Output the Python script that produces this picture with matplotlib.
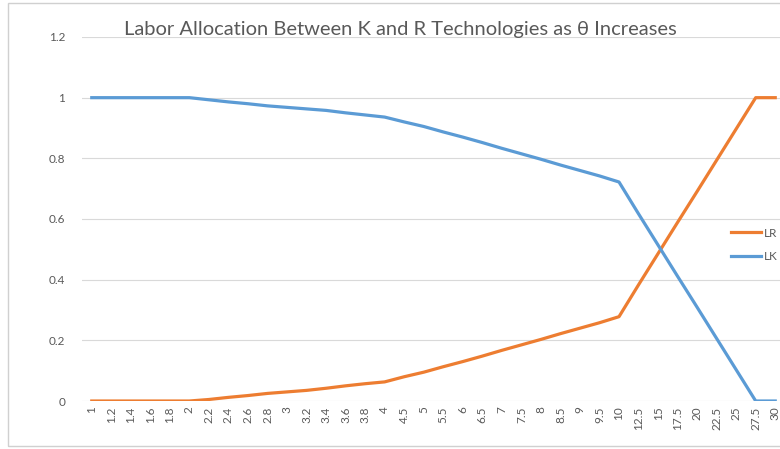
import matplotlib.pyplot as plt
from matplotlib.patches import Rectangle

plt.rcParams['font.family'] = ['Lato', 'DejaVu Sans']

# theta categories (category axis, evenly spaced)
theta = ['1', '1.2', '1.4', '1.6', '1.8', '2', '2.2', '2.4', '2.6', '2.8', '3',
         '3.2', '3.4', '3.6', '3.8', '4', '4.5', '5', '5.5', '6', '6.5', '7',
         '7.5', '8', '8.5', '9', '9.5', '10', '12.5', '15', '17.5', '20',
         '22.5', '25', '27.5', '30']

lr = [0, 0, 0, 0, 0, 0, 0.005, 0.012, 0.018, 0.025, 0.03, 0.035, 0.042,
      0.05, 0.057, 0.063, 0.08, 0.095, 0.113, 0.13, 0.148, 0.167, 0.185,
      0.203, 0.222, 0.24, 0.258, 0.278, 0.383, 0.486, 0.589, 0.691, 0.794,
      0.897, 1.0, 1.0]

lk = [1, 1, 1, 1, 1, 1, 0.993, 0.986, 0.98, 0.973, 0.968, 0.963, 0.958,
      0.95, 0.943, 0.936, 0.92, 0.905, 0.887, 0.87, 0.852, 0.833, 0.815,
      0.797, 0.778, 0.76, 0.742, 0.722, 0.617, 0.514, 0.411, 0.309, 0.206,
      0.103, 0, 0]

fig = plt.figure(figsize=(7.8, 4.49), dpi=100)
ax = fig.add_axes([82 / 780, 48 / 449, 703 / 780, 364 / 449])

x = range(len(theta))
ax.plot(x, lr, color='#ED7D31', linewidth=2.3, label='LR', solid_joinstyle='round')
ax.plot(x, lk, color='#5B9BD5', linewidth=2.3, label='LK', solid_joinstyle='round')

ax.set_xlim(-0.5, len(theta) - 0.5)
ax.set_ylim(0, 1.2)
ax.set_yticks([0, 0.2, 0.4, 0.6, 0.8, 1, 1.2])
ax.set_yticklabels(['0', '0.2', '0.4', '0.6', '0.8', '1', '1.2'])
ax.set_xticks(list(x))
ax.set_xticklabels(theta, rotation=90)
ax.tick_params(axis='both', length=0, colors='#595959', labelsize=8.5)
ax.tick_params(axis='y', pad=12)
ax.tick_params(axis='x', pad=4)
ax.grid(axis='y', color='#d9d9d9', linewidth=0.8)
ax.set_axisbelow(True)
for s in ax.spines.values():
    s.set_visible(False)

ax.legend(loc='center left', bbox_to_anchor=(726 / 780, 1 - 245 / 449),
          bbox_transform=fig.transFigure, frameon=False, fontsize=8.5,
          labelcolor='#595959', handlelength=2.6, handletextpad=0.2,
          labelspacing=1.1, borderaxespad=0)

fig.text(400 / 780, 1 - 29 / 449,
         'Labor Allocation Between K and R Technologies as \u03b8 Increases',
         ha='center', va='center', fontsize=14.5, color='#595959')

fig.patches.append(Rectangle((8 / 780, 3 / 449), 1.0, 443 / 449,
                             transform=fig.transFigure, fill=False,
                             edgecolor='#d0d0d0', linewidth=1))

fig.savefig('out.png', dpi=100)
